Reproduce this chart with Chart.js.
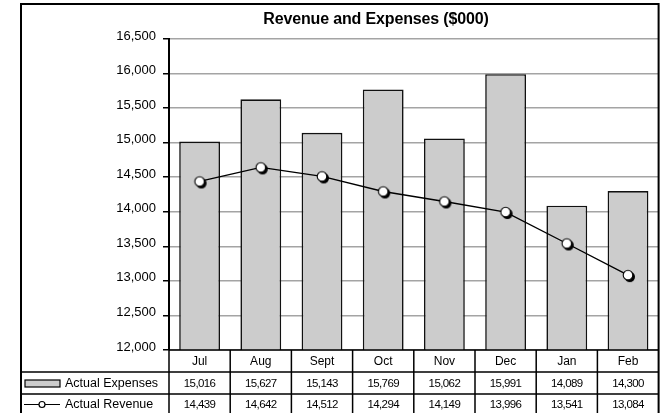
<!DOCTYPE html>
<html>
<head>
<meta charset="utf-8">
<title>Revenue and Expenses</title>
<script src="https://cdn.jsdelivr.net/npm/chart.js@4/dist/chart.umd.min.js"></script>
<style>
  html, body { margin: 0; padding: 0; background: #fff; }
  #wrap { width: 665px; height: 413px; }
</style>
</head>
<body>
<div id="wrap"><canvas id="revChart" width="665" height="413"></canvas></div>
<script>
// données mensuelles ($000)
const months = ['Jul', 'Aug', 'Sept', 'Oct', 'Nov', 'Dec', 'Jan', 'Feb'];
const expenses = [15016, 15627, 15143, 15769, 15062, 15991, 14089, 14300];
const revenue = [14439, 14642, 14512, 14294, 14149, 13996, 13541, 13084];
const yMin = 12000, yMax = 16500, yStep = 500;
const titleText = 'Revenue and Expenses ($000)';
const seriesNames = ['Actual Expenses', 'Actual Revenue'];

const FONT = '"Liberation Sans", Arial, sans-serif';
const fmt = v => v.toLocaleString('en-US');

// marqueur rond blanc avec ombre noire
function makeMarker() {
  const c = document.createElement('canvas');
  c.width = c.height = 18;
  const g = c.getContext('2d');
  g.fillStyle = '#000';
  g.beginPath(); g.arc(10.8, 10.8, 5.2, 0, Math.PI * 2); g.fill();
  g.fillStyle = '#fff'; g.strokeStyle = '#000'; g.lineWidth = 1.1;
  g.beginPath(); g.arc(9, 9, 4.8, 0, Math.PI * 2); g.fill(); g.stroke();
  return c;
}

// cadre, titre et tableau de données sous l'axe
const tablePlugin = {
  id: 'dataTable',
  afterDraw(chart) {
    const { ctx, chartArea: a } = chart;
    const x = chart.scales.x;
    const half = (x.getPixelForValue(1) - x.getPixelForValue(0)) / 2;
    const left = 21, top = 4, bottom = chart.height;
    const r1 = a.bottom, r2 = a.bottom + 22, r3 = a.bottom + 44;

    ctx.save();
    ctx.strokeStyle = '#000';

    // cadre extérieur
    ctx.lineWidth = 2;
    ctx.beginPath();
    ctx.moveTo(left, bottom); ctx.lineTo(left, top); ctx.lineTo(a.right, top); ctx.lineTo(a.right, bottom);
    ctx.stroke();

    // lignes du tableau
    ctx.lineWidth = 1.5;
    ctx.beginPath();
    ctx.moveTo(a.left, r1); ctx.lineTo(a.right, r1);
    ctx.moveTo(left, r2); ctx.lineTo(a.right, r2);
    ctx.moveTo(left, r3); ctx.lineTo(a.right, r3);
    months.forEach((m, i) => {
      const xl = x.getPixelForValue(i) - half;
      ctx.moveTo(xl, r1); ctx.lineTo(xl, bottom);
    });
    ctx.stroke();

    // titre
    ctx.fillStyle = '#000';
    ctx.textAlign = 'center';
    ctx.textBaseline = 'middle';
    ctx.font = 'bold 16px ' + FONT;
    ctx.letterSpacing = '-0.15px';
    ctx.fillText(titleText, 376, 20);

    // mois
    ctx.font = '12px ' + FONT;
    ctx.letterSpacing = '0px';
    months.forEach((m, i) => ctx.fillText(m, x.getPixelForValue(i), r1 + 11.5));

    // valeurs
    ctx.font = '11.5px ' + FONT;
    ctx.letterSpacing = '-0.6px';
    months.forEach((m, i) => {
      const cx = x.getPixelForValue(i);
      ctx.fillText(fmt(expenses[i]), cx, r2 + 11.5);
      ctx.fillText(fmt(revenue[i]), cx, r3 + 10.5);
    });

    // légende dans la première colonne
    ctx.letterSpacing = '0px';
    ctx.textAlign = 'left';
    ctx.font = '12.5px ' + FONT;
    ctx.fillText(seriesNames[0], 65, r2 + 11.5);
    ctx.fillText(seriesNames[1], 65, r3 + 10.5);

    ctx.fillStyle = '#cccccc';
    ctx.lineWidth = 1.2;
    ctx.fillRect(25, r2 + 8, 35, 7);
    ctx.strokeRect(25, r2 + 8, 35, 7);

    ctx.beginPath();
    ctx.moveTo(24, r3 + 10.5); ctx.lineTo(60, r3 + 10.5);
    ctx.stroke();
    ctx.fillStyle = '#fff';
    ctx.beginPath(); ctx.arc(42, r3 + 10.5, 3, 0, Math.PI * 2); ctx.fill(); ctx.stroke();
    ctx.restore();
  }
};

new Chart(document.getElementById('revChart'), {
  type: 'bar',
  data: {
    labels: months,
    datasets: [
      {
        type: 'line',
        label: seriesNames[1],
        data: revenue,
        borderColor: '#000',
        borderWidth: 1.4,
        pointStyle: makeMarker(),
        pointRadius: 5,
        order: 0
      },
      {
        label: seriesNames[0],
        data: expenses,
        backgroundColor: '#cccccc',
        borderColor: '#111',
        borderWidth: 1.6,
        categoryPercentage: 1,
        barPercentage: 0.667,
        order: 1
      }
    ]
  },
  options: {
    responsive: false,
    animation: false,
    layout: { padding: { left: 0, right: 4, top: 39, bottom: 63 } },
    plugins: {
      legend: { display: false },
      title: { display: false },
      tooltip: { enabled: false }
    },
    scales: {
      x: { display: false },
      y: {
        min: yMin,
        max: yMax,
        afterFit(scale) { scale.width = 169; },
        ticks: {
          stepSize: yStep,
          color: '#000',
          padding: 7,
          labelOffset: -3,
          font: { family: FONT, size: 13 },
          callback: v => fmt(v)
        },
        grid: { color: '#a4a4a4', lineWidth: 1.5, tickColor: '#000', tickLength: 6 },
        border: { color: '#000', width: 2 }
      }
    }
  },
  plugins: [tablePlugin]
});
</script>
</body>
</html>
